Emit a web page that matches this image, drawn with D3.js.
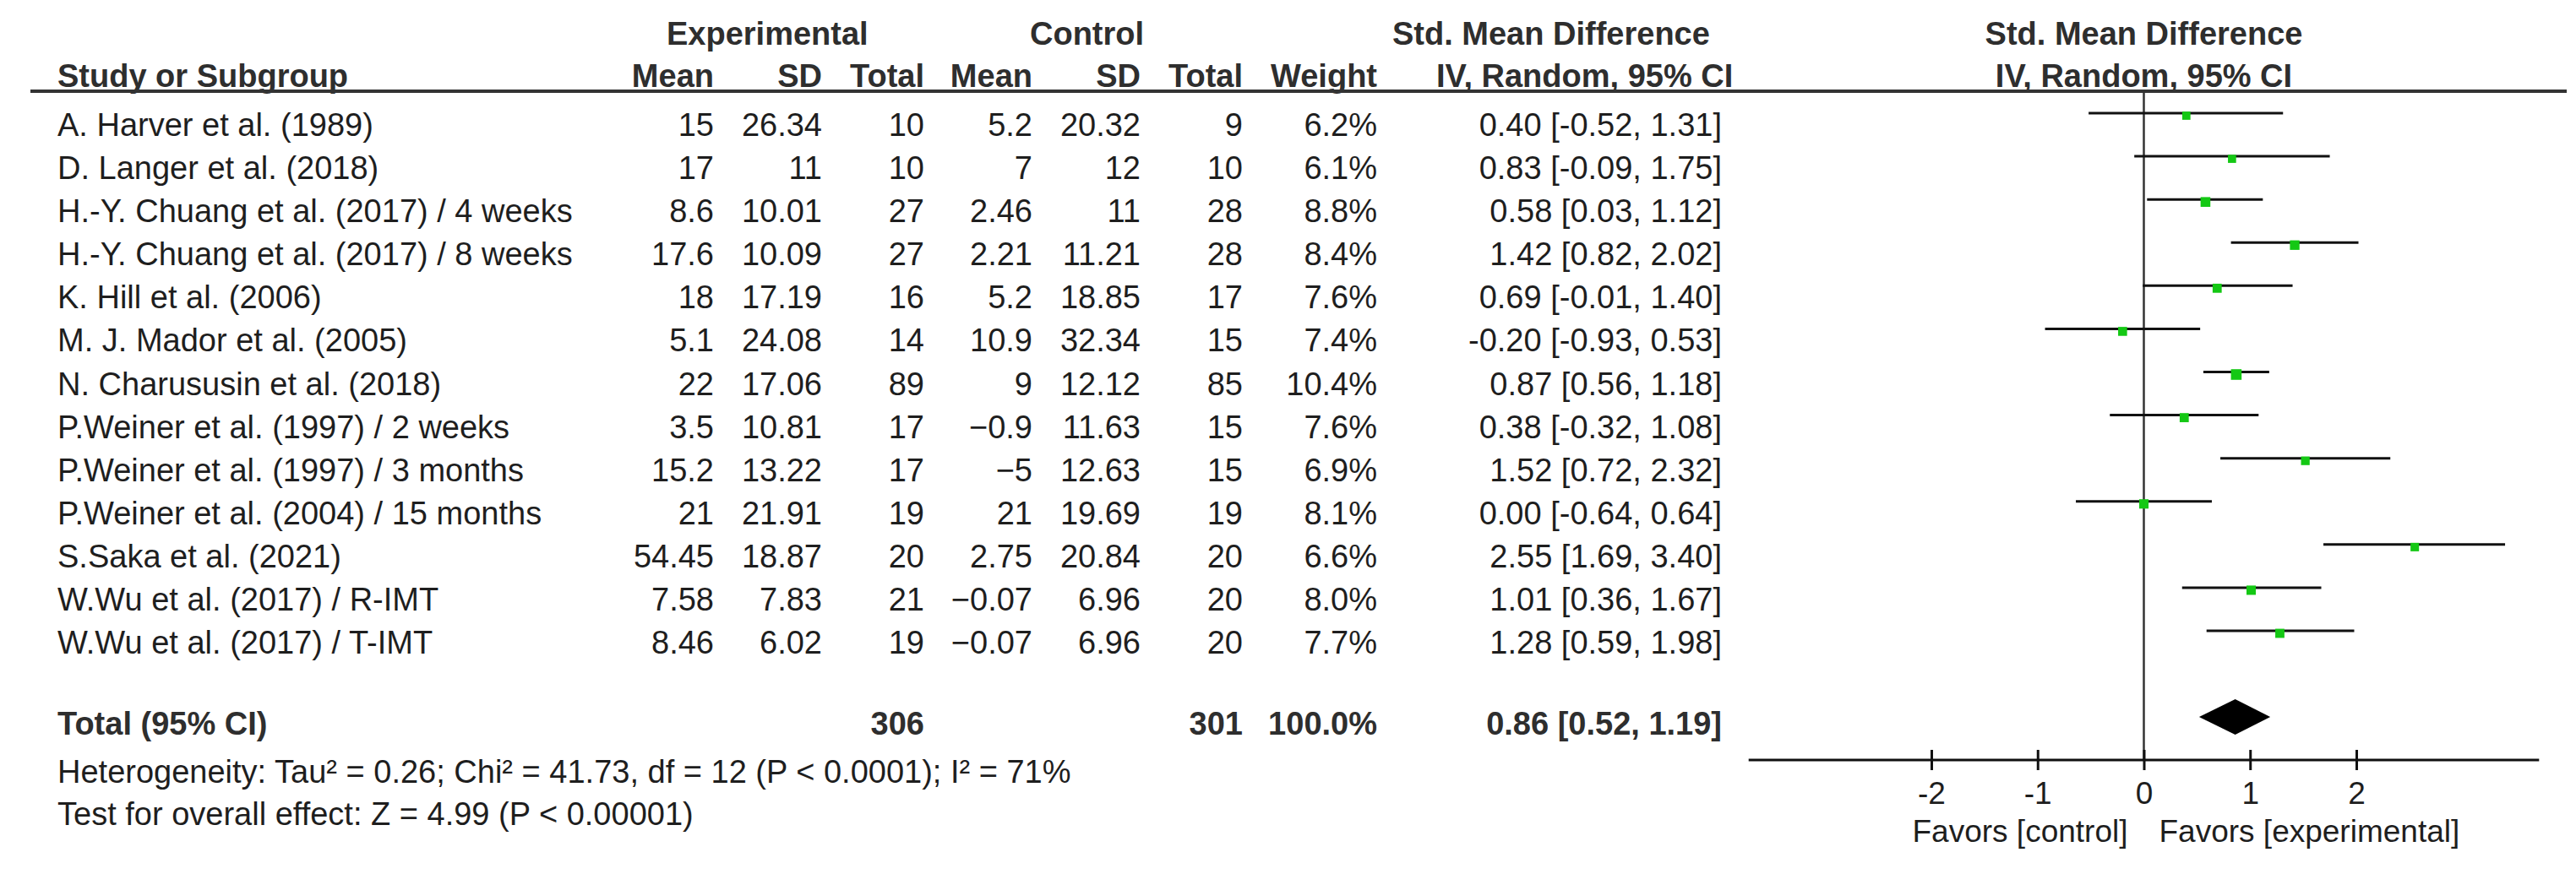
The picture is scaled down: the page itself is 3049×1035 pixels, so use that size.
<!DOCTYPE html>
<html>
<head>
<meta charset="utf-8">
<script src="https://cdn.jsdelivr.net/npm/d3@7/dist/d3.min.js"></script>
<style>
  html, body { margin: 0; padding: 0; background: #fff; }
  svg text { font-family: "Liberation Sans", Arial, Helvetica, sans-serif; }
</style>
</head>
<body>
<svg id="chart" width="3049" height="1035"></svg>
<script>
// ---------- data ----------
const studies = [
  "A. Harver et al. (1989)",
  "D. Langer et al. (2018)",
  "H.-Y. Chuang et al. (2017) / 4 weeks",
  "H.-Y. Chuang et al. (2017) / 8 weeks",
  "K. Hill et al. (2006)",
  "M. J. Mador et al. (2005)",
  "N. Charususin et al. (2018)",
  "P.Weiner et al. (1997) / 2 weeks",
  "P.Weiner et al. (1997) / 3 months",
  "P.Weiner et al. (2004) / 15 months",
  "S.Saka et al. (2021)",
  "W.Wu et al. (2017) / R-IMT",
  "W.Wu et al. (2017) / T-IMT"
];
const expMean = [15, 17, 8.6, 17.6, 18, 5.1, 22, 3.5, 15.2, 21, 54.45, 7.58, 8.46];
const expSD   = [26.34, 11, 10.01, 10.09, 17.19, 24.08, 17.06, 10.81, 13.22, 21.91, 18.87, 7.83, 6.02];
const expN    = [10, 10, 27, 27, 16, 14, 89, 17, 17, 19, 20, 21, 19];
const ctlMean = [5.2, 7, 2.46, 2.21, 5.2, 10.9, 9, -0.9, -5, 21, 2.75, -0.07, -0.07];
const ctlSD   = [20.32, 12, 11, 11.21, 18.85, 32.34, 12.12, 11.63, 12.63, 19.69, 20.84, 6.96, 6.96];
const ctlN    = [9, 10, 28, 28, 17, 15, 85, 15, 15, 19, 20, 20, 20];
const weight  = [6.2, 6.1, 8.8, 8.4, 7.6, 7.4, 10.4, 7.6, 6.9, 8.1, 6.6, 8.0, 7.7];
const smd     = [0.40, 0.83, 0.58, 1.42, 0.69, -0.20, 0.87, 0.38, 1.52, 0.00, 2.55, 1.01, 1.28];
const ciLow   = [-0.52, -0.09, 0.03, 0.82, -0.01, -0.93, 0.56, -0.32, 0.72, -0.64, 1.69, 0.36, 0.59];
const ciHigh  = [1.31, 1.75, 1.12, 2.02, 1.40, 0.53, 1.18, 1.08, 2.32, 0.64, 3.40, 1.67, 1.98];

const totalLabel = "Total (95% CI)";
const totalExpN = 306, totalCtlN = 301, totalWeight = 100.0;
const pooled = [0.86, 0.52, 1.19];  // estimate, low, high
const heterogeneityText = "Heterogeneity: Tau² = 0.26; Chi² = 41.73, df = 12 (P < 0.0001); I² = 71%";
const overallText = "Test for overall effect: Z = 4.99 (P < 0.00001)";
const axisTicks = [-2, -1, 0, 1, 2];
const favorsLeft = "Favors [control]";
const favorsRight = "Favors [experimental]";

// ---------- layout ----------
const W = 3049, H = 1035;
const FS = 38;
const svg = d3.select("#chart");
svg.append("rect").attr("width", W).attr("height", H).attr("fill", "#fff");

const x = d3.scaleLinear().domain([-2, 2]).range([2286, 2789]);
const rows = d3.range(studies.length);
const y = d3.scalePoint().domain(rows).range([161, 774]);   // text baselines
const axisY = 900, headerLineY = 108;
const totalY = 870;

const fmtNum = v => String(v).replace("-", "\u2212");
const f2 = v => v.toFixed(2);
const ciText = (e, l, h) => `${f2(e)} [${f2(l)}, ${f2(h)}]`;

const txtColor = "#1e1e1e", boldColor = "#2e2e2e";

function text(g, s, xx, yy, anchor, bold, size) {
  return g.append("text")
    .attr("x", xx).attr("y", yy)
    .attr("text-anchor", anchor || "start")
    .attr("font-size", size || FS)
    .attr("font-weight", bold ? "bold" : "normal")
    .attr("fill", bold ? boldColor : txtColor)
    .text(s);
}

// ---------- headers ----------
const hdr = svg.append("g");
text(hdr, "Experimental", 789, 53, "start", true);
text(hdr, "Control", 1219, 53, "start", true);
text(hdr, "Std. Mean Difference", 1648, 53, "start", true);
text(hdr, "Std. Mean Difference", x(0), 53, "middle", true);

const cols = {
  name: 68, expMean: 845, expSD: 973, expN: 1094,
  ctlMean: 1222, ctlSD: 1350, ctlN: 1471, weight: 1630, ci: 2038
};
text(hdr, "Study or Subgroup", cols.name, 103, "start", true);
text(hdr, "Mean", cols.expMean, 103, "end", true);
text(hdr, "SD", cols.expSD, 103, "end", true);
text(hdr, "Total", cols.expN, 103, "end", true);
text(hdr, "Mean", cols.ctlMean, 103, "end", true);
text(hdr, "SD", cols.ctlSD, 103, "end", true);
text(hdr, "Total", cols.ctlN, 103, "end", true);
text(hdr, "Weight", cols.weight, 103, "end", true);
text(hdr, "IV, Random, 95% CI", 1700, 103, "start", true);
text(hdr, "IV, Random, 95% CI", x(0), 103, "middle", true);

svg.append("line")
  .attr("x1", 36).attr("x2", 3038)
  .attr("y1", headerLineY).attr("y2", headerLineY)
  .attr("stroke", "#333").attr("stroke-width", 4);

// ---------- table rows ----------
const body = svg.append("g");
rows.forEach(i => {
  const yy = y(i);
  text(body, studies[i], cols.name, yy, "start");
  text(body, fmtNum(expMean[i]), cols.expMean, yy, "end");
  text(body, fmtNum(expSD[i]), cols.expSD, yy, "end");
  text(body, fmtNum(expN[i]), cols.expN, yy, "end");
  text(body, fmtNum(ctlMean[i]), cols.ctlMean, yy, "end");
  text(body, fmtNum(ctlSD[i]), cols.ctlSD, yy, "end");
  text(body, fmtNum(ctlN[i]), cols.ctlN, yy, "end");
  text(body, weight[i].toFixed(1) + "%", cols.weight, yy, "end");
  text(body, ciText(smd[i], ciLow[i], ciHigh[i]), cols.ci, yy, "end");
});

// totals
text(body, totalLabel, cols.name, totalY, "start", true);
text(body, String(totalExpN), cols.expN, totalY, "end", true);
text(body, String(totalCtlN), cols.ctlN, totalY, "end", true);
text(body, totalWeight.toFixed(1) + "%", cols.weight, totalY, "end", true);
text(body, ciText(pooled[0], pooled[1], pooled[2]), cols.ci, totalY, "end", true);

text(body, heterogeneityText, cols.name, 927, "start");
text(body, overallText, cols.name, 977, "start");

// ---------- forest plot ----------
const plot = svg.append("g");
// zero line
plot.append("line")
  .attr("x1", x(0)).attr("x2", x(0))
  .attr("y1", headerLineY).attr("y2", axisY)
  .attr("stroke", "#333").attr("stroke-width", 2.5);

// CI lines
const ciOff = -27;
plot.selectAll("line.ci").data(rows).join("line")
  .attr("class", "ci")
  .attr("x1", i => x(ciLow[i])).attr("x2", i => x(ciHigh[i]))
  .attr("y1", i => y(i) + ciOff).attr("y2", i => y(i) + ciOff)
  .attr("stroke", "#111").attr("stroke-width", 3);

// squares
const side = i => 3.9 * Math.sqrt(weight[i]);
plot.selectAll("rect.pt").data(rows).join("rect")
  .attr("class", "pt")
  .attr("x", i => x(smd[i]) - side(i) / 2)
  .attr("y", i => y(i) + ciOff + 3 - side(i) / 2)
  .attr("width", side).attr("height", side)
  .attr("fill", "#14c814");

// diamond
const dy = 849, dh = 21;
plot.append("path")
  .attr("d", d3.line()([
    [x(pooled[1]), dy], [x(pooled[0]), dy - dh],
    [x(pooled[2]), dy], [x(pooled[0]), dy + dh]
  ]) + "Z")
  .attr("fill", "#000");

// axis
const axisG = plot.append("g").attr("transform", `translate(0,${axisY})`);
axisG.append("line")
  .attr("x1", x(-3.72)).attr("x2", x(3.72))
  .attr("stroke", "#111").attr("stroke-width", 3);
axisG.call(d3.axisBottom(x).tickValues(axisTicks)
  .tickFormat(d => (d < 0 ? "-" : "") + Math.abs(d))
  .tickSize(12).tickPadding(0));
axisG.select(".domain").remove();
axisG.selectAll(".tick line")
  .attr("y1", -12).attr("y2", 12)
  .attr("stroke", "#111").attr("stroke-width", 3);
axisG.selectAll(".tick text")
  .attr("y", 52).attr("dy", 0)
  .attr("font-size", 37)
  .attr("font-family", "Liberation Sans, Arial, sans-serif")
  .attr("fill", txtColor);

text(plot, favorsLeft, x(0) - 19, 997, "end", false, 37);
text(plot, favorsRight, x(0) + 18, 997, "start", false, 37);
</script>
</body>
</html>
